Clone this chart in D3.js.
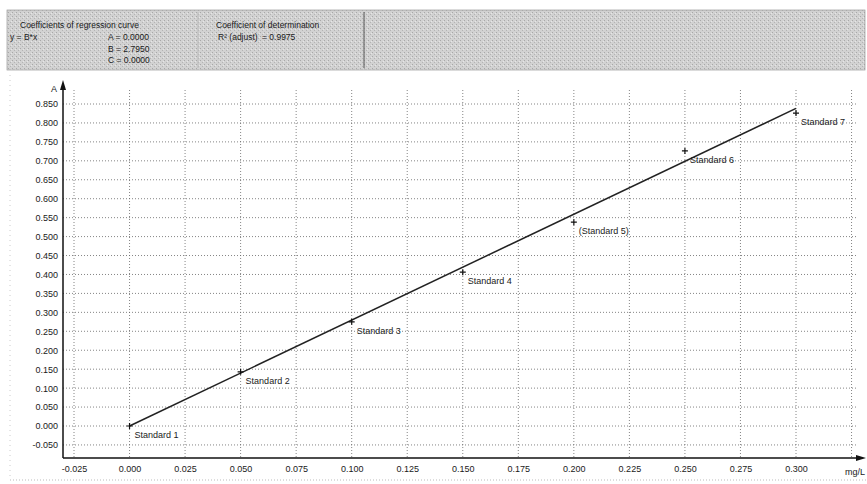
<!DOCTYPE html>
<html>
<head>
    <meta charset="utf-8">
    <title>Calibration curve</title>
    <script src="https://d3js.org/d3.v7.min.js"></script>
    <style>
        body { margin: 0; background: #fff; }
        text { font-family: "Liberation Sans", Arial, sans-serif; fill: #1a1a1a; }
        .tick text { font-size: 9px; fill: #1a1a1a; }
        .lbl { font-size: 9px; }
    </style>
</head>
<body>
    <div id="chart"></div>
    <script>
        // data
        const names = ["Standard 1", "Standard 2", "Standard 3", "Standard 4", "(Standard 5)", "Standard 6", "Standard 7"];
        const conc = [0.000, 0.050, 0.100, 0.150, 0.200, 0.250, 0.300];
        const absorb = [0.000, 0.143, 0.275, 0.406, 0.538, 0.726, 0.826];
        const slopeB = 2.795;
        const xTicks = [-0.025, 0, 0.025, 0.05, 0.075, 0.1, 0.125, 0.15, 0.175, 0.2, 0.225, 0.25, 0.275, 0.3];
        const yTicks = [-0.05, 0, 0.05, 0.1, 0.15, 0.2, 0.25, 0.3, 0.35, 0.4, 0.45, 0.5, 0.55, 0.6, 0.65, 0.7, 0.75, 0.8, 0.85];
        const coefLines = ["A = 0.0000", "B = 2.7950", "C = 0.0000"];

        const width = 867, height = 484;
        const svg = d3.select("#chart").append("svg")
            .attr("width", width).attr("height", height);

        // header panel with gray background
        const defs = svg.append("defs");
        const pat = defs.append("pattern").attr("id", "dither")
            .attr("width", 4).attr("height", 4).attr("patternUnits", "userSpaceOnUse");
        pat.append("rect").attr("width", 4).attr("height", 4).attr("fill", "#d2d2d2");
        pat.append("rect").attr("x", 0).attr("y", 0).attr("width", 1).attr("height", 1).attr("fill", "#a8a8a8");
        pat.append("rect").attr("x", 2).attr("y", 2).attr("width", 1).attr("height", 1).attr("fill", "#b4b4b4");
        pat.append("rect").attr("x", 3).attr("y", 1).attr("width", 1).attr("height", 1).attr("fill", "#e6e6e6");

        svg.append("rect").attr("x", 7).attr("y", 10).attr("width", 858).attr("height", 60)
            .attr("fill", "url(#dither)").attr("stroke", "#999").attr("stroke-width", 0.7);
        svg.append("line").attr("x1", 198).attr("x2", 198).attr("y1", 12).attr("y2", 68)
            .attr("stroke", "#bbb").attr("stroke-width", 1);
        svg.append("line").attr("x1", 364).attr("x2", 364).attr("y1", 12).attr("y2", 68)
            .attr("stroke", "#555").attr("stroke-width", 1);

        const head = svg.append("g").attr("class", "lbl");
        head.append("text").attr("x", 20).attr("y", 28).style("font-size", "8.5px").text("Coefficients of regression curve");
        head.append("text").attr("x", 10).attr("y", 40).style("font-size", "8.5px").text("y = B*x");
        coefLines.forEach((t, i) => {
            head.append("text").attr("x", 108).attr("y", 40 + i * 11.5).style("font-size", "8.5px").text(t);
        });
        head.append("text").attr("x", 216).attr("y", 28).style("font-size", "8.5px").text("Coefficient of determination");
        head.append("text").attr("x", 218).attr("y", 40).style("font-size", "8.5px").text("R² (adjust)");
        head.append("text").attr("x", 262).attr("y", 40).style("font-size", "8.5px").text("= 0.9975");

        // scales
        const x = d3.scaleLinear().domain([-0.025, 0.3]).range([74, 796]);
        const y = d3.scaleLinear().domain([0, 0.85]).range([426, 104]);
        const x0 = 63, xEnd = 860, yBot = 458, yTop = 84;
        const fmt = d => d3.format(".3f")(d).replace("\u2212", "-");

        // faint outer frame of the scan
        svg.append("line").attr("x1", 10).attr("x2", 867).attr("y1", 480).attr("y2", 480)
            .attr("stroke", "#bbb").attr("stroke-dasharray", "1,2");
        svg.append("line").attr("x1", 10).attr("x2", 10).attr("y1", 75).attr("y2", 480)
            .attr("stroke", "#ccc").attr("stroke-dasharray", "1,4");

        // grid
        const grid = svg.append("g").attr("stroke", "#666").attr("stroke-width", 0.8)
            .attr("stroke-dasharray", "1,2");
        grid.selectAll(".vg").data(xTicks.concat([0.325])).enter().append("line")
            .attr("x1", d => x(d)).attr("x2", d => x(d)).attr("y1", yTop + 6).attr("y2", yBot);
        grid.selectAll(".hg").data(yTicks).enter().append("line")
            .attr("x1", x0).attr("x2", xEnd - 4).attr("y1", d => y(d)).attr("y2", d => y(d));

        // axes
        const xAxis = d3.axisBottom(x).tickValues(xTicks).tickSize(0).tickPadding(6).tickFormat(fmt);
        const gx = svg.append("g").attr("transform", `translate(0,${yBot})`).call(xAxis);
        gx.select(".domain").remove();
        gx.selectAll("text").attr("dy", "0.9em");

        const yAxis = d3.axisLeft(y).tickValues(yTicks).tickSize(0).tickPadding(5).tickFormat(fmt);
        const gy = svg.append("g").attr("transform", `translate(${x0},0)`).call(yAxis);
        gy.select(".domain").remove();

        svg.append("line").attr("x1", x0).attr("x2", xEnd).attr("y1", yBot).attr("y2", yBot)
            .attr("stroke", "#111").attr("stroke-width", 1.5);
        svg.append("line").attr("x1", x0).attr("x2", x0).attr("y1", yTop).attr("y2", yBot)
            .attr("stroke", "#111").attr("stroke-width", 1.5);
        svg.append("path").attr("d", `M${xEnd + 6},${yBot} L${xEnd - 4},${yBot - 3} L${xEnd - 4},${yBot + 3} Z`).attr("fill", "#111");
        svg.append("path").attr("d", `M${x0},${yTop - 4} L${x0 - 3},${yTop + 6} L${x0 + 3},${yTop + 6} Z`).attr("fill", "#111");

        svg.append("text").attr("x", 51).attr("y", 92).style("font-size", "9px").text("A");
        svg.append("text").attr("x", 845).attr("y", 475).style("font-size", "9px").text("mg/L");

        // regression line
        svg.append("line")
            .attr("x1", x(0)).attr("y1", y(0))
            .attr("x2", x(0.3)).attr("y2", y(0.3 * slopeB))
            .attr("stroke", "#222").attr("stroke-width", 1.5);

        // points
        const pts = svg.append("g");
        conc.forEach((c, i) => {
            const px = x(c), py = y(absorb[i]);
            pts.append("path").attr("d", `M${px - 3},${py} H${px + 3} M${px},${py - 3} V${py + 3}`)
                .attr("stroke", "#111").attr("stroke-width", 1.2);
            pts.append("text").attr("class", "lbl").attr("x", px + 5).attr("y", py + 12).text(names[i]);
        });
    </script>
</body>
</html>
